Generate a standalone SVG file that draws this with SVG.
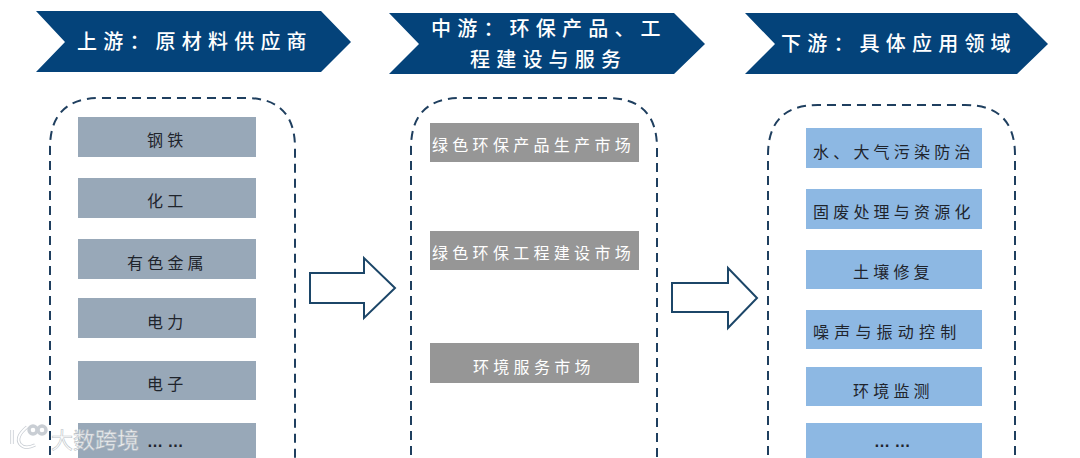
<svg xmlns="http://www.w3.org/2000/svg" width="1080" height="458" viewBox="0 0 1080 458">
<style>
text{font-family:"Noto Sans CJK SC","Liberation Sans",sans-serif}
.h{fill:#04437a}
.ht{fill:#fff;font-size:20px;letter-spacing:6.2px;font-weight:500}
.d{fill:none;stroke:#1f3f5f;stroke-width:2;stroke-dasharray:9 6}
.a{fill:#fff;stroke:#1c4668;stroke-width:2}
.g1{fill:#98a8b8}.g2{fill:#969696}.g3{fill:#8db8e3}
.bt{fill:#1f242c;font-size:16px;letter-spacing:4.2px}
.wt{fill:#fff;font-size:16px;letter-spacing:4.3px}
.dots{fill:#1f242c;font-family:"Liberation Sans",sans-serif;font-size:16px;font-weight:700}
.wm{fill:#fff;fill-opacity:.85;font-size:22px;stroke:#b9bfc6;stroke-width:.6}
.wl{fill:none;stroke:#c9ced4;stroke-width:3.4}
.wl2{fill:none;stroke:#fff;stroke-width:1.8}
</style>
<g id="connectors">
<path class="a" d="M310 273H364V258L395 288L364 318V303H310Z"/>
<path class="a" d="M672 283H728V268L757 298L728 328V312H672Z"/>
</g>
<g id="header-up"><path class="h" d="M36 11H321L351 42L321 72H36L65 42Z"/><text class="ht" x="77" y="49">上游&#65306;原材料供应商</text></g>
<g id="header-mid"><path class="h" d="M389 13H674L705 44L674 74H389L419 44Z"/><text class="ht" x="431" y="36">中游&#65306;环保产品、工</text><text class="ht" x="470" y="67">程建设与服务</text></g>
<g id="header-down"><path class="h" d="M745 13H1017L1048 44L1017 74H745L775 44Z"/><text class="ht" x="781" y="51">下游&#65306;具体应用领域</text></g>

<g id="panel-up"><path class="d" d="M50 470V148Q50 98 100 98H246Q295 98 295 148V470"/></g>
<g id="panel-mid"><path class="d" d="M411 470V148Q411 98 461 98H607Q657 98 657 148V470"/></g>
<g id="panel-down"><path class="d" d="M768 470V155Q768 105 818 105H965Q1015 105 1015 155V470"/></g>

<g id="n-gangtie"><rect class="g1" x="78" y="117" width="178" height="40"/><text class="bt" x="147" y="146">钢铁</text></g>
<g id="n-huagong"><rect class="g1" x="78" y="178" width="178" height="40"/><text class="bt" x="147" y="207">化工</text></g>
<g id="n-youse"><rect class="g1" x="78" y="239" width="178" height="40"/><text class="bt" x="127" y="269">有色金属</text></g>
<g id="n-dianli"><rect class="g1" x="78" y="298" width="178" height="40"/><text class="bt" x="147" y="328">电力</text></g>
<g id="n-dianzi"><rect class="g1" x="78" y="361" width="178" height="39"/><text class="bt" x="147" y="390">电子</text></g>
<g id="n-more1"><rect class="g1" x="78" y="423" width="178" height="40"/><text class="dots" x="147" y="447">… …</text></g>

<g id="n-m1"><rect class="g2" x="430" y="123" width="209" height="39"/><text class="wt" x="432" y="151">绿色环保产品生产市场</text></g>
<g id="n-m2"><rect class="g2" x="430" y="231" width="209" height="39"/><text class="wt" x="432" y="259">绿色环保工程建设市场</text></g>
<g id="n-m3"><rect class="g2" x="430" y="343" width="209" height="40"/><text class="wt" x="473" y="373">环境服务市场</text></g>

<g id="n-d1"><rect class="g3" x="806" y="128" width="176" height="40"/><text class="bt" x="813" y="158">水、大气污染防治</text></g>
<g id="n-d2"><rect class="g3" x="806" y="189" width="176" height="40"/><text class="bt" x="813" y="218">固废处理与资源化</text></g>
<g id="n-d3"><rect class="g3" x="806" y="250" width="176" height="39"/><text class="bt" x="853" y="278">土壤修复</text></g>
<g id="n-d4"><rect class="g3" x="806" y="310" width="176" height="39"/><text class="bt" x="813" y="338" style="letter-spacing:5.2px">噪声与振动控制</text></g>
<g id="n-d5"><rect class="g3" x="806" y="367" width="176" height="39"/><text class="bt" x="853" y="397">环境监测</text></g>
<g id="n-d6"><rect class="g3" x="806" y="423" width="176" height="40"/><text class="dots" x="874" y="447">… …</text></g>

<g id="watermark">
<path class="wl" d="M12 430V444M27 427Q15 437 20 444Q25 450 35 445"/>
<circle class="wl" cx="33" cy="430" r="4" stroke-width="1.6"/>
<circle class="wl" cx="42" cy="430" r="4" stroke-width="1.6"/>
<path class="wl2" d="M12 430V444M27 427Q15 437 20 444Q25 450 35 445"/>
<text class="wm" x="51" y="448">大数跨境</text>
</g>
</svg>
